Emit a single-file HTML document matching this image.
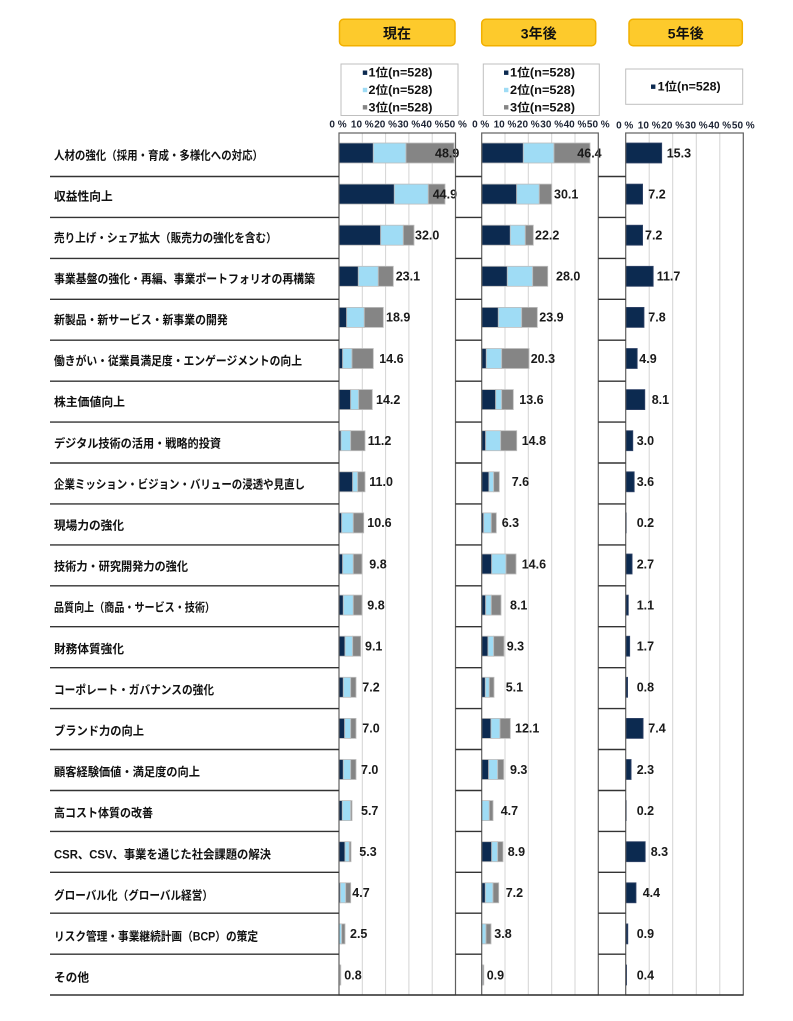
<!DOCTYPE html>
<html><head><meta charset="utf-8">
<style>
body{margin:0;background:#fff}
svg{display:block}
.d{fill:#0c2a50;stroke:#bdbdbd;stroke-width:.8}
.l{fill:#9fdcf5;stroke:#bdbdbd;stroke-width:.8}
.g{fill:#858585;stroke:#bdbdbd;stroke-width:.8}
.d3{fill:#0c2a50;stroke:#34466a;stroke-width:.8}
.v{font-family:"Liberation Sans",sans-serif;font-size:12.5px;font-weight:bold;fill:#1a1a1a}
.lb{font-family:"Liberation Sans","Noto Sans CJK JP",sans-serif;font-size:12px;font-weight:bold;fill:#111}
.t{font-family:"Liberation Sans",sans-serif;font-size:10px;font-weight:bold;fill:#1c2333}
.lg{font-family:"Liberation Sans","Noto Sans CJK JP",sans-serif;font-size:11.5px;font-weight:bold;fill:#111}
.hd{font-family:"Liberation Sans","Noto Sans CJK JP",sans-serif;font-size:14px;font-weight:bold;fill:#111}
</style></head>
<body>
<svg width="793" height="1021" viewBox="0 0 793 1021" xmlns="http://www.w3.org/2000/svg">
<rect x="0" y="0" width="793" height="1021" fill="#fff"/>

<!-- headers -->
<rect x="339.5" y="19.3" width="115.5" height="26.4" rx="4" fill="#fdca2c" stroke="#f2b000" stroke-width="1.5"/>
<rect x="481.7" y="19.3" width="114" height="26.4" rx="4" fill="#fdca2c" stroke="#f2b000" stroke-width="1.5"/>
<rect x="629" y="19.3" width="113.3" height="26.4" rx="4" fill="#fdca2c" stroke="#f2b000" stroke-width="1.5"/>
<text class="hd" x="397" y="38.5" text-anchor="middle">現在</text>
<text class="hd" x="538.7" y="38.5" text-anchor="middle">3年後</text>
<text class="hd" x="685.7" y="38.5" text-anchor="middle">5年後</text>

<!-- legends -->
<rect x="341" y="64" width="117" height="51.5" fill="#fff" stroke="#bfbfbf" stroke-width="1"/>
<rect x="362.8" y="70.5" width="4.4" height="4.4" fill="#0c2a50"/>
<rect x="362.8" y="87.8" width="4.4" height="4.4" fill="#9fdcf5"/>
<rect x="362.8" y="105.1" width="4.4" height="4.4" fill="#858585"/>
<text class="lg" x="368.5" y="76.7" textLength="64" lengthAdjust="spacingAndGlyphs">1位(n=528)</text>
<text class="lg" x="368.5" y="94" textLength="64" lengthAdjust="spacingAndGlyphs">2位(n=528)</text>
<text class="lg" x="368.5" y="111.3" textLength="64" lengthAdjust="spacingAndGlyphs">3位(n=528)</text>

<rect x="483.3" y="64" width="116" height="51.5" fill="#fff" stroke="#bfbfbf" stroke-width="1"/>
<rect x="504" y="70.5" width="4.4" height="4.4" fill="#0c2a50"/>
<rect x="504" y="87.8" width="4.4" height="4.4" fill="#9fdcf5"/>
<rect x="504" y="105.1" width="4.4" height="4.4" fill="#858585"/>
<text class="lg" x="510" y="76.7" textLength="65" lengthAdjust="spacingAndGlyphs">1位(n=528)</text>
<text class="lg" x="510" y="94" textLength="65" lengthAdjust="spacingAndGlyphs">2位(n=528)</text>
<text class="lg" x="510" y="111.3" textLength="65" lengthAdjust="spacingAndGlyphs">3位(n=528)</text>

<rect x="625.7" y="69" width="117" height="35.3" fill="#fff" stroke="#bfbfbf" stroke-width="1"/>
<rect x="651" y="84.5" width="4.4" height="4.4" fill="#0c2a50"/>
<text class="lg" x="657.7" y="90.7" textLength="63" lengthAdjust="spacingAndGlyphs">1位(n=528)</text>

<!-- tick labels -->
<g class="t" text-anchor="middle">
<text x="338" y="127.3">0 %</text><text x="362.3" y="127.3">10 %</text><text x="385.6" y="127.3">20 %</text><text x="408.9" y="127.3">30 %</text><text x="432.2" y="127.3">40 %</text><text x="455.5" y="127.3">50 %</text>
<text x="480.7" y="127.3">0 %</text><text x="505" y="127.3">10 %</text><text x="528.3" y="127.3">20 %</text><text x="551.7" y="127.3">30 %</text><text x="575" y="127.3">40 %</text><text x="598.3" y="127.3">50 %</text>
<text x="624.7" y="128.3">0 %</text><text x="649.2" y="128.3">10 %</text><text x="672.7" y="128.3">20 %</text><text x="696.3" y="128.3">30 %</text><text x="719.8" y="128.3">40 %</text><text x="743.3" y="128.3">50 %</text>
</g>

<!-- panel backgrounds -->
<rect x="339" y="133" width="116.5" height="862" fill="#fff"/>
<rect x="481.7" y="133" width="116.6" height="862" fill="#fff"/>
<rect x="625.7" y="133" width="117.6" height="862" fill="#fff"/>

<!-- gridlines -->
<path d="M362.3 133V995M385.6 133V995M408.9 133V995M432.2 133V995M505 133V995M528.3 133V995M551.7 133V995M575 133V995M649.2 133V995M672.7 133V995M696.3 133V995M719.8 133V995" stroke="#d4d4d4" stroke-width="1" fill="none"/>

<!-- rows -->
<g transform="translate(0,143)">
<text class="lb" x="54" y="16.6" textLength="209" lengthAdjust="spacingAndGlyphs">人材の強化（採用・育成・多様化への対応）</text>
<rect class="d" x="339" y="0" width="34.3" height="20"/><rect class="l" x="373.3" y="0" width="32.7" height="20"/><rect class="g" x="406" y="0" width="48" height="20"/>
<rect class="d" x="481.7" y="0" width="41.6" height="20"/><rect class="l" x="523.3" y="0" width="30.7" height="20"/><rect class="g" x="554" y="0" width="36" height="20"/>
<rect class="d3" x="625.7" y="0" width="36" height="20"/>
<text class="v" x="435" y="14.3">48.9</text><text class="v" x="577.3" y="14.3">46.4</text><text class="v" x="666.7" y="14.3">15.3</text>
</g>

<g transform="translate(0,184.1)">
<text class="lb" x="54" y="16.6" textLength="58.7" lengthAdjust="spacingAndGlyphs">収益性向上</text>
<rect class="d" x="339" y="0" width="55.3" height="20"/><rect class="l" x="394.3" y="0" width="34" height="20"/><rect class="g" x="428.3" y="0" width="16.7" height="20"/>
<rect class="d" x="481.7" y="0" width="35" height="20"/><rect class="l" x="516.7" y="0" width="22.6" height="20"/><rect class="g" x="539.3" y="0" width="12.4" height="20"/>
<rect class="d3" x="625.7" y="0" width="16.9" height="20"/>
<text class="v" x="432.7" y="14.3">44.9</text><text class="v" x="554" y="14.3">30.1</text><text class="v" x="648.3" y="14.3">7.2</text>
</g>

<g transform="translate(0,225.2)">
<text class="lb" x="54" y="16.6" textLength="222.7" lengthAdjust="spacingAndGlyphs">売り上げ・シェア拡大（販売力の強化を含む）</text>
<rect class="d" x="339" y="0" width="41.7" height="20"/><rect class="l" x="380.7" y="0" width="22.6" height="20"/><rect class="g" x="403.3" y="0" width="10.7" height="20"/>
<rect class="d" x="481.7" y="0" width="28.6" height="20"/><rect class="l" x="510.3" y="0" width="15" height="20"/><rect class="g" x="525.3" y="0" width="8" height="20"/>
<rect class="d3" x="625.7" y="0" width="16.9" height="20"/>
<text class="v" x="415" y="14.3">32.0</text><text class="v" x="535" y="14.3">22.2</text><text class="v" x="645" y="14.3">7.2</text>
</g>

<g transform="translate(0,266.3)">
<text class="lb" x="54" y="16.6" textLength="261" lengthAdjust="spacingAndGlyphs">事業基盤の強化・再編、事業ポートフォリオの再構築</text>
<rect class="d" x="339" y="0" width="19.3" height="20"/><rect class="l" x="358.3" y="0" width="20" height="20"/><rect class="g" x="378.3" y="0" width="15" height="20"/>
<rect class="d" x="481.7" y="0" width="25.6" height="20"/><rect class="l" x="507.3" y="0" width="25.4" height="20"/><rect class="g" x="532.7" y="0" width="15" height="20"/>
<rect class="d3" x="625.7" y="0" width="27.5" height="20"/>
<text class="v" x="395.7" y="14.3">23.1</text><text class="v" x="556" y="14.3">28.0</text><text class="v" x="656.7" y="14.3">11.7</text>
</g>

<g transform="translate(0,307.4)">
<text class="lb" x="54" y="16.6" textLength="173.7" lengthAdjust="spacingAndGlyphs">新製品・新サービス・新事業の開発</text>
<rect class="d" x="339" y="0" width="7.7" height="20"/><rect class="l" x="346.7" y="0" width="17.6" height="20"/><rect class="g" x="364.3" y="0" width="19" height="20"/>
<rect class="d" x="481.7" y="0" width="16.6" height="20"/><rect class="l" x="498.3" y="0" width="23.4" height="20"/><rect class="g" x="521.7" y="0" width="15.6" height="20"/>
<rect class="d3" x="625.7" y="0" width="18.3" height="20"/>
<text class="v" x="386" y="14.3">18.9</text><text class="v" x="539.3" y="14.3">23.9</text><text class="v" x="648.3" y="14.3">7.8</text>
</g>

<g transform="translate(0,348.5)">
<text class="lb" x="54" y="16.6" textLength="248" lengthAdjust="spacingAndGlyphs">働きがい・従業員満足度・エンゲージメントの向上</text>
<rect class="d" x="339" y="0" width="3.7" height="20"/><rect class="l" x="342.7" y="0" width="9.3" height="20"/><rect class="g" x="352" y="0" width="21.3" height="20"/>
<rect class="d" x="481.7" y="0" width="4.6" height="20"/><rect class="l" x="486.3" y="0" width="15.4" height="20"/><rect class="g" x="501.7" y="0" width="27.3" height="20"/>
<rect class="d3" x="625.7" y="0" width="11.5" height="20"/>
<text class="v" x="379.3" y="14.3">14.6</text><text class="v" x="530.7" y="14.3">20.3</text><text class="v" x="639.3" y="14.3">4.9</text>
</g>

<g transform="translate(0,389.6)">
<text class="lb" x="54" y="16.6" textLength="71" lengthAdjust="spacingAndGlyphs">株主価値向上</text>
<rect class="d" x="339" y="0" width="11.7" height="20"/><rect class="l" x="350.7" y="0" width="8" height="20"/><rect class="g" x="358.7" y="0" width="13.6" height="20"/>
<rect class="d" x="481.7" y="0" width="14" height="20"/><rect class="l" x="495.7" y="0" width="6" height="20"/><rect class="g" x="501.7" y="0" width="11.6" height="20"/>
<rect class="d3" x="625.7" y="0" width="19.1" height="20"/>
<text class="v" x="376" y="14.3">14.2</text><text class="v" x="519.3" y="14.3">13.6</text><text class="v" x="651.7" y="14.3">8.1</text>
</g>

<g transform="translate(0,430.7)">
<text class="lb" x="54" y="16.6" textLength="167" lengthAdjust="spacingAndGlyphs">デジタル技術の活用・戦略的投資</text>
<rect class="d" x="339" y="0" width="2" height="20"/><rect class="l" x="341" y="0" width="9.7" height="20"/><rect class="g" x="350.7" y="0" width="14.3" height="20"/>
<rect class="d" x="481.7" y="0" width="4" height="20"/><rect class="l" x="485.7" y="0" width="15" height="20"/><rect class="g" x="500.7" y="0" width="16" height="20"/>
<rect class="d3" x="625.7" y="0" width="7.1" height="20"/>
<text class="v" x="367.7" y="14.3">11.2</text><text class="v" x="521.7" y="14.3">14.8</text><text class="v" x="636.7" y="14.3">3.0</text>
</g>

<g transform="translate(0,471.8)">
<text class="lb" x="54" y="16.6" textLength="251" lengthAdjust="spacingAndGlyphs">企業ミッション・ビジョン・バリューの浸透や見直し</text>
<rect class="d" x="339" y="0" width="13.7" height="20"/><rect class="l" x="352.7" y="0" width="5" height="20"/><rect class="g" x="357.7" y="0" width="7.3" height="20"/>
<rect class="d" x="481.7" y="0" width="7.3" height="20"/><rect class="l" x="489" y="0" width="4.7" height="20"/><rect class="g" x="493.7" y="0" width="5.6" height="20"/>
<rect class="d3" x="625.7" y="0" width="8.5" height="20"/>
<text class="v" x="369.3" y="14.3">11.0</text><text class="v" x="511.7" y="14.3">7.6</text><text class="v" x="636.7" y="14.3">3.6</text>
</g>

<g transform="translate(0,512.9)">
<text class="lb" x="54" y="16.6" textLength="70" lengthAdjust="spacingAndGlyphs">現場力の強化</text>
<rect class="d" x="339" y="0" width="2.7" height="20"/><rect class="l" x="341.7" y="0" width="11.6" height="20"/><rect class="g" x="353.3" y="0" width="10.4" height="20"/>
<rect class="d" x="481.7" y="0" width="2" height="20"/><rect class="l" x="483.7" y="0" width="7.6" height="20"/><rect class="g" x="491.3" y="0" width="5" height="20"/>
<rect class="d3" x="625.7" y="0" width="0.5" height="20"/>
<text class="v" x="367.3" y="14.3">10.6</text><text class="v" x="501.7" y="14.3">6.3</text><text class="v" x="636.7" y="14.3">0.2</text>
</g>

<g transform="translate(0,554)">
<text class="lb" x="54" y="16.6" textLength="134" lengthAdjust="spacingAndGlyphs">技術力・研究開発力の強化</text>
<rect class="d" x="339" y="0" width="3.7" height="20"/><rect class="l" x="342.7" y="0" width="10.6" height="20"/><rect class="g" x="353.3" y="0" width="8.7" height="20"/>
<rect class="d" x="481.7" y="0" width="10" height="20"/><rect class="l" x="491.7" y="0" width="14.3" height="20"/><rect class="g" x="506" y="0" width="10" height="20"/>
<rect class="d3" x="625.7" y="0" width="6.4" height="20"/>
<text class="v" x="369.3" y="14.3">9.8</text><text class="v" x="521.7" y="14.3">14.6</text><text class="v" x="636.7" y="14.3">2.7</text>
</g>

<g transform="translate(0,595.1)">
<text class="lb" x="54" y="16.6" textLength="161" lengthAdjust="spacingAndGlyphs">品質向上（商品・サービス・技術）</text>
<rect class="d" x="339" y="0" width="4.3" height="20"/><rect class="l" x="343.3" y="0" width="10" height="20"/><rect class="g" x="353.3" y="0" width="8.7" height="20"/>
<rect class="d" x="481.7" y="0" width="4" height="20"/><rect class="l" x="485.7" y="0" width="5.6" height="20"/><rect class="g" x="491.3" y="0" width="9.7" height="20"/>
<rect class="d3" x="625.7" y="0" width="2.6" height="20"/>
<text class="v" x="367.3" y="14.3">9.8</text><text class="v" x="510" y="14.3">8.1</text><text class="v" x="636.7" y="14.3">1.1</text>
</g>

<g transform="translate(0,636.2)">
<text class="lb" x="54" y="16.6" textLength="70" lengthAdjust="spacingAndGlyphs">財務体質強化</text>
<rect class="d" x="339" y="0" width="6" height="20"/><rect class="l" x="345" y="0" width="7.7" height="20"/><rect class="g" x="352.7" y="0" width="8" height="20"/>
<rect class="d" x="481.7" y="0" width="6.3" height="20"/><rect class="l" x="488" y="0" width="5.7" height="20"/><rect class="g" x="493.7" y="0" width="10.3" height="20"/>
<rect class="d3" x="625.7" y="0" width="4" height="20"/>
<text class="v" x="365" y="14.3">9.1</text><text class="v" x="506.7" y="14.3">9.3</text><text class="v" x="636.7" y="14.3">1.7</text>
</g>

<g transform="translate(0,677.3)">
<text class="lb" x="54" y="16.6" textLength="160" lengthAdjust="spacingAndGlyphs">コーポレート・ガバナンスの強化</text>
<rect class="d" x="339" y="0" width="4.3" height="20"/><rect class="l" x="343.3" y="0" width="7.4" height="20"/><rect class="g" x="350.7" y="0" width="5.3" height="20"/>
<rect class="d" x="481.7" y="0" width="3.6" height="20"/><rect class="l" x="485.3" y="0" width="4" height="20"/><rect class="g" x="489.3" y="0" width="4.7" height="20"/>
<rect class="d3" x="625.7" y="0" width="1.9" height="20"/>
<text class="v" x="362.3" y="14.3">7.2</text><text class="v" x="505.7" y="14.3">5.1</text><text class="v" x="636.7" y="14.3">0.8</text>
</g>

<g transform="translate(0,718.4)">
<text class="lb" x="54" y="16.6" textLength="90" lengthAdjust="spacingAndGlyphs">ブランド力の向上</text>
<rect class="d" x="339" y="0" width="5.7" height="20"/><rect class="l" x="344.7" y="0" width="6" height="20"/><rect class="g" x="350.7" y="0" width="5.3" height="20"/>
<rect class="d" x="481.7" y="0" width="9.3" height="20"/><rect class="l" x="491" y="0" width="9" height="20"/><rect class="g" x="500" y="0" width="10.3" height="20"/>
<rect class="d3" x="625.7" y="0" width="17.4" height="20"/>
<text class="v" x="362.3" y="14.3">7.0</text><text class="v" x="515" y="14.3">12.1</text><text class="v" x="648.3" y="14.3">7.4</text>
</g>

<g transform="translate(0,759.5)">
<text class="lb" x="54" y="16.6" textLength="146" lengthAdjust="spacingAndGlyphs">顧客経験価値・満足度の向上</text>
<rect class="d" x="339" y="0" width="4.3" height="20"/><rect class="l" x="343.3" y="0" width="7.4" height="20"/><rect class="g" x="350.7" y="0" width="5.3" height="20"/>
<rect class="d" x="481.7" y="0" width="7" height="20"/><rect class="l" x="488.7" y="0" width="9" height="20"/><rect class="g" x="497.7" y="0" width="6" height="20"/>
<rect class="d3" x="625.7" y="0" width="5.4" height="20"/>
<text class="v" x="361" y="14.3">7.0</text><text class="v" x="510" y="14.3">9.3</text><text class="v" x="636.7" y="14.3">2.3</text>
</g>

<g transform="translate(0,800.6)">
<text class="lb" x="54" y="16.6" textLength="99" lengthAdjust="spacingAndGlyphs">高コスト体質の改善</text>
<rect class="d" x="339" y="0" width="3.3" height="20"/><rect class="l" x="342.3" y="0" width="8.4" height="20"/><rect class="g" x="350.7" y="0" width="1.3" height="20"/>
<rect class="l" x="481.7" y="0" width="7.6" height="20"/><rect class="g" x="489.3" y="0" width="3.7" height="20"/>
<rect class="d3" x="625.7" y="0" width="0.5" height="20"/>
<text class="v" x="361" y="14.3">5.7</text><text class="v" x="500.7" y="14.3">4.7</text><text class="v" x="636.7" y="14.3">0.2</text>
</g>

<g transform="translate(0,841.7)">
<text class="lb" x="54" y="16.6" textLength="217" lengthAdjust="spacingAndGlyphs">CSR、CSV、事業を通じた社会課題の解決</text>
<rect class="d" x="339" y="0" width="6" height="20"/><rect class="l" x="345" y="0" width="4.3" height="20"/><rect class="g" x="349.3" y="0" width="1.7" height="20"/>
<rect class="d" x="481.7" y="0" width="10" height="20"/><rect class="l" x="491.7" y="0" width="6" height="20"/><rect class="g" x="497.7" y="0" width="5.3" height="20"/>
<rect class="d3" x="625.7" y="0" width="19.5" height="20"/>
<text class="v" x="359.3" y="14.3">5.3</text><text class="v" x="507.7" y="14.3">8.9</text><text class="v" x="650.7" y="14.3">8.3</text>
</g>

<g transform="translate(0,882.8)">
<text class="lb" x="54" y="16.6" textLength="159" lengthAdjust="spacingAndGlyphs">グローバル化（グローバル経営）</text>
<rect class="d" x="339" y="0" width="1.3" height="20"/><rect class="l" x="340.3" y="0" width="5.4" height="20"/><rect class="g" x="345.7" y="0" width="5" height="20"/>
<rect class="d" x="481.7" y="0" width="3.6" height="20"/><rect class="l" x="485.3" y="0" width="7.7" height="20"/><rect class="g" x="493" y="0" width="5.7" height="20"/>
<rect class="d3" x="625.7" y="0" width="10.3" height="20"/>
<text class="v" x="352.3" y="14.3">4.7</text><text class="v" x="505.7" y="14.3">7.2</text><text class="v" x="642.7" y="14.3">4.4</text>
</g>

<g transform="translate(0,923.9)">
<text class="lb" x="54" y="16.6" textLength="204" lengthAdjust="spacingAndGlyphs">リスク管理・事業継続計画（BCP）の策定</text>
<rect class="l" x="339" y="0" width="2.7" height="20"/><rect class="g" x="341.7" y="0" width="3.3" height="20"/>
<rect class="l" x="481.7" y="0" width="4.3" height="20"/><rect class="g" x="486" y="0" width="5" height="20"/>
<rect class="d3" x="625.7" y="0" width="2.1" height="20"/>
<text class="v" x="350" y="14.3">2.5</text><text class="v" x="494.3" y="14.3">3.8</text><text class="v" x="636.7" y="14.3">0.9</text>
</g>

<g transform="translate(0,965)">
<text class="lb" x="54" y="16.6" textLength="35" lengthAdjust="spacingAndGlyphs">その他</text>
<rect class="l" x="339" y="0" width="0.8" height="20"/><rect class="g" x="339.8" y="0" width="1" height="20"/>
<rect class="l" x="481.7" y="0" width="1" height="20"/><rect class="g" x="482.7" y="0" width="1.1" height="20"/>
<rect class="d3" x="625.7" y="0" width="0.9" height="20"/>
<text class="v" x="344.3" y="14.3">0.8</text><text class="v" x="486.7" y="14.3">0.9</text><text class="v" x="636.7" y="14.3">0.4</text>
</g>

<!-- panel borders -->
<rect x="339" y="133" width="116.5" height="862" fill="none" stroke="#606060" stroke-width="1.2"/>
<rect x="481.7" y="133" width="116.6" height="862" fill="none" stroke="#606060" stroke-width="1.2"/>
<rect x="625.7" y="133" width="117.6" height="862" fill="none" stroke="#606060" stroke-width="1.2"/>

<!-- row separators -->
<path fill="none" stroke="#333" stroke-width="1.4" d="
M50 176.5H339M455.5 176.5H481.7M598.3 176.5H625.7
M50 217.4H339M455.5 217.4H481.7M598.3 217.4H625.7
M50 258.4H339M455.5 258.4H481.7M598.3 258.4H625.7
M50 299.3H339M455.5 299.3H481.7M598.3 299.3H625.7
M50 340.2H339M455.5 340.2H481.7M598.3 340.2H625.7
M50 381.2H339M455.5 381.2H481.7M598.3 381.2H625.7
M50 422.1H339M455.5 422.1H481.7M598.3 422.1H625.7
M50 463H339M455.5 463H481.7M598.3 463H625.7
M50 503.9H339M455.5 503.9H481.7M598.3 503.9H625.7
M50 544.9H339M455.5 544.9H481.7M598.3 544.9H625.7
M50 585.8H339M455.5 585.8H481.7M598.3 585.8H625.7
M50 626.7H339M455.5 626.7H481.7M598.3 626.7H625.7
M50 667.7H339M455.5 667.7H481.7M598.3 667.7H625.7
M50 708.6H339M455.5 708.6H481.7M598.3 708.6H625.7
M50 749.5H339M455.5 749.5H481.7M598.3 749.5H625.7
M50 790.5H339M455.5 790.5H481.7M598.3 790.5H625.7
M50 831.4H339M455.5 831.4H481.7M598.3 831.4H625.7
M50 872.3H339M455.5 872.3H481.7M598.3 872.3H625.7
M50 913.2H339M455.5 913.2H481.7M598.3 913.2H625.7
M50 954.2H339M455.5 954.2H481.7M598.3 954.2H625.7
M50 995H743.3"/>
</svg>
</body></html>
